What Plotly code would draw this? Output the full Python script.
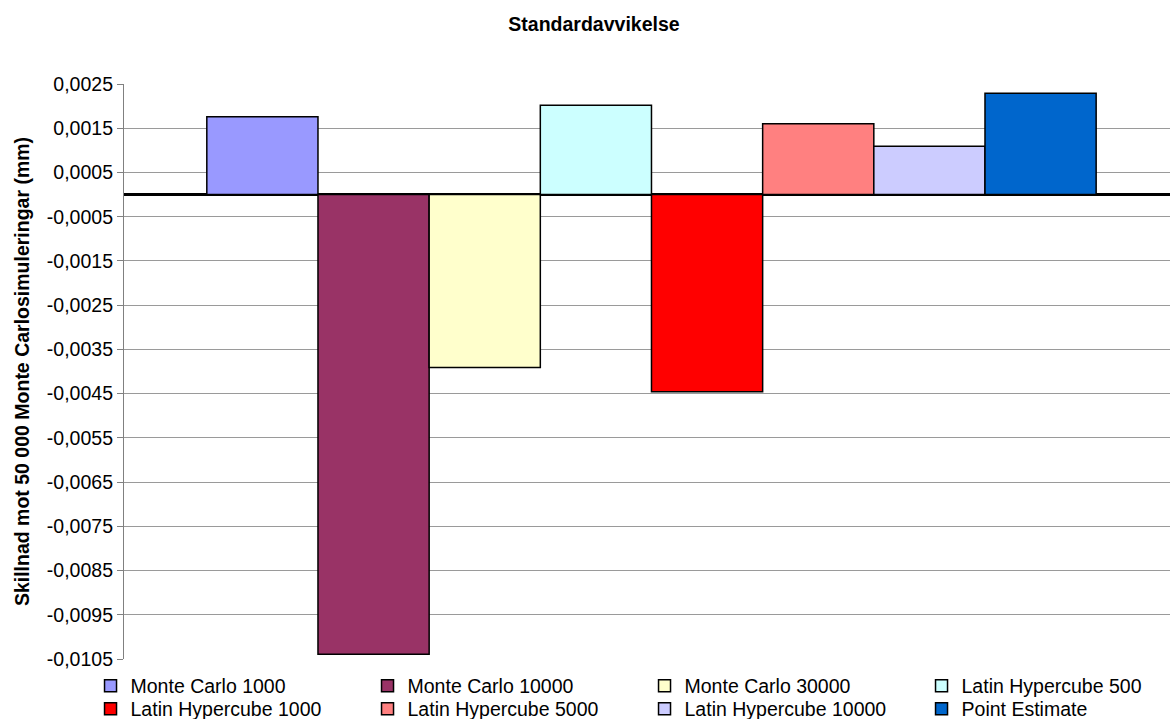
import plotly.graph_objects as go

# Difference in standard deviation versus 50 000 Monte Carlo simulations (mm)
series_names = [
    "Monte Carlo 1000",
    "Monte Carlo 10000",
    "Monte Carlo 30000",
    "Latin Hypercube 500",
    "Latin Hypercube 1000",
    "Latin Hypercube 5000",
    "Latin Hypercube 10000",
    "Point Estimate",
]
series_values = [0.00176, -0.01039, -0.00391, 0.00202, -0.00446, 0.00160, 0.00109, 0.00229]
series_colors = ["#9999FF", "#993366", "#FFFFCC", "#CCFFFF",
                 "#FF0000", "#FF8080", "#CCCCFF", "#0066CC"]
# legend row for each series (four entries per row)
legend_rows = ["legend", "legend", "legend", "legend",
               "legend2", "legend2", "legend2", "legend2"]

y_tick_values = [0.0025, 0.0015, 0.0005, -0.0005, -0.0015, -0.0025, -0.0035,
                 -0.0045, -0.0055, -0.0065, -0.0075, -0.0085, -0.0095, -0.0105]
y_tick_labels = [f"{v:.4f}".replace(".", ",") for v in y_tick_values]

FONT = "Arial, Liberation Sans, sans-serif"
FS = 19.5

fig = go.Figure()
for name, val, col, lg in zip(series_names, series_values, series_colors, legend_rows):
    fig.add_trace(go.Bar(
        x=[0], y=[val], name=name, legend=lg,
        marker=dict(color=col, line=dict(color="#000000", width=1.5)),
    ))

legend_style = dict(orientation="h", x=-0.032, xanchor="left", yanchor="top",
                    entrywidth=232, entrywidthmode="pixels", traceorder="normal",
                    font=dict(family=FONT, size=FS), itemclick=False,
                    bgcolor="rgba(0,0,0,0)")

fig.update_layout(
    width=1170, height=719,
    paper_bgcolor="white", plot_bgcolor="white",
    font=dict(family=FONT, size=FS, color="#000000"),
    barmode="group", bargap=0.157, bargroupgap=0,
    margin=dict(l=124, r=0, t=84, b=60, autoexpand=False),
    title=dict(text="Standardavvikelse", x=594 / 1170, xref="container", xanchor="center",
               y=1 - 24 / 719, yref="container", yanchor="middle",
               font=dict(family=FONT, size=FS, weight="bold", color="#000000")),
    showlegend=True,
    legend=dict(legend_style, y=-0.013),
    legend2=dict(legend_style, y=-0.053),
)

fig.update_xaxes(range=[-0.5, 0.4915], showticklabels=False, ticks="",
                 showgrid=False, zeroline=False, showline=False, fixedrange=True)
fig.update_yaxes(range=[-0.0105, 0.0025], tickvals=y_tick_values, ticktext=y_tick_labels,
                 showgrid=True, gridcolor="#9a9a9a", gridwidth=1.2,
                 zeroline=True, zerolinecolor="#000000", zerolinewidth=2.5,
                 showline=True, linecolor="#808080", linewidth=1.2,
                 ticks="outside", ticklen=6, tickcolor="#808080", tickwidth=1.2,
                 tickfont=dict(family=FONT, size=FS),
                 title=dict(text="Skillnad mot 50 000 Monte Carlosimuleringar (mm)",
                            font=dict(family=FONT, size=FS, weight="bold"), standoff=12),
                 fixedrange=True)

fig.write_html("out.html")
